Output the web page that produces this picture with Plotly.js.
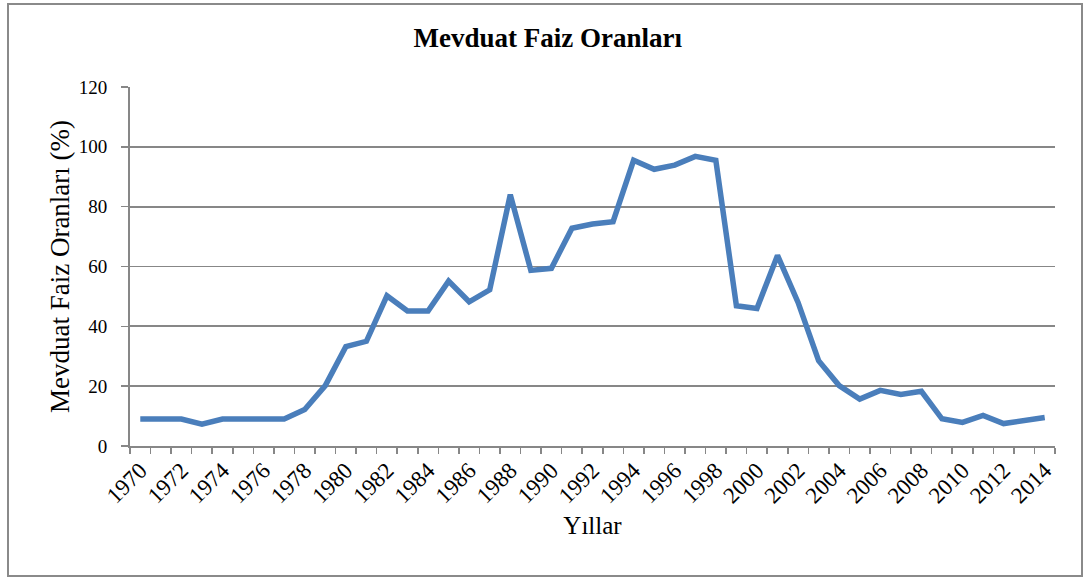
<!DOCTYPE html>
<html>
<head>
<meta charset="utf-8">
<script src="https://cdn.plot.ly/plotly-3.0.1.min.js"></script>
<style>
  html, body { margin: 0; padding: 0; background: #ffffff; }
  #wrap { position: relative; width: 1087px; height: 577px; }
  #chart { position: absolute; left: 0; top: 0; width: 1087px; height: 577px; }
  #frame { position: absolute; left: 7px; top: 3px; width: 1072px; height: 570px;
           border: 2px solid #8a8a8a; pointer-events: none; }
</style>
</head>
<body>
<div id="wrap">
  <div id="chart"></div>
  <div id="frame"></div>
</div>
<script>
// Years (categories)
const years = [1970, 1971, 1972, 1973, 1974, 1975, 1976, 1977, 1978, 1979,
               1980, 1981, 1982, 1983, 1984, 1985, 1986, 1987, 1988, 1989,
               1990, 1991, 1992, 1993, 1994, 1995, 1996, 1997, 1998, 1999,
               2000, 2001, 2002, 2003, 2004, 2005, 2006, 2007, 2008, 2009,
               2010, 2011, 2012, 2013, 2014];
// Deposit interest rates (%)
const rates = [9, 9, 9, 7.3, 9, 9, 9, 9, 12.2, 20.2,
               33.2, 35, 50.2, 45.1, 45.1, 55.1, 48.2, 52.2, 84, 58.7,
               59.4, 72.8, 74.2, 75, 95.5, 92.5, 93.9, 96.8, 95.5, 46.9,
               46, 63.7, 48, 28.5, 20.2, 15.7, 18.6, 17.2, 18.3, 9.1,
               7.9, 10.2, 7.5, 8.3, 9.5];
// Tick labels shown on the x axis
const xTickYears = [1970, 1972, 1974, 1976, 1978, 1980, 1982, 1984, 1986, 1988,
                    1990, 1992, 1994, 1996, 1998, 2000, 2002, 2004, 2006, 2008,
                    2010, 2012, 2014];
const yTicks = [0, 20, 40, 60, 80, 100, 120];

const titleText = 'Mevduat Faiz Oranları';
const xTitle = 'Yıllar';
const yTitle = 'Mevduat Faiz Oranları (%)';

const gridColor = '#878787';
const serif = '"Liberation Serif", "Times New Roman", serif';

const trace = {
  x: years,
  y: rates,
  type: 'scatter',
  mode: 'lines',
  line: { color: '#4a7ebb', width: 5.5 },
  hoverinfo: 'x+y'
};

const layout = {
  width: 1087,
  height: 577,
  paper_bgcolor: '#ffffff',
  plot_bgcolor: '#ffffff',
  showlegend: false,
  margin: { l: 130, r: 32, t: 87, b: 131, pad: 0 },
  font: { family: serif, color: '#000000', size: 19 },
  title: {
    text: '<b>' + titleText + '</b>',
    font: { family: serif, size: 27, color: '#000000' },
    xref: 'container', yref: 'container',
    x: 0.504, y: 1 - 38 / 577,
    xanchor: 'center', yanchor: 'middle'
  },
  xaxis: {
    type: 'linear',
    range: [1969.5, 2014.5],
    tickmode: 'array',
    tickvals: xTickYears,
    ticktext: xTickYears.map(String),
    tickangle: -45,
    ticks: 'outside',
    ticklen: 0,
    tickcolor: gridColor,
    minor: {
      tickmode: 'linear',
      tick0: 1969.5,
      dtick: 1,
      ticks: 'outside',
      ticklen: 6,
      tickwidth: 1.5,
      tickcolor: gridColor,
      showgrid: false
    },
    showgrid: false,
    zeroline: false,
    showline: true,
    linecolor: gridColor,
    linewidth: 2,
    tickfont: { family: serif, size: 23, color: '#000000' },
    title: {
      text: xTitle,
      font: { family: serif, size: 25, color: '#000000' },
      standoff: 9
    },
    fixedrange: true
  },
  yaxis: {
    range: [0, 120],
    tickmode: 'array',
    tickvals: yTicks,
    ticktext: yTicks.map(String),
    ticks: 'outside',
    ticklen: 7,
    tickwidth: 1.5,
    tickcolor: gridColor,
    ticklabelstandoff: 10,
    showgrid: true,
    gridcolor: gridColor,
    gridwidth: 1.8,
    zeroline: false,
    showline: true,
    linecolor: gridColor,
    linewidth: 2,
    tickfont: { family: serif, size: 19, color: '#000000' },
    title: {
      text: yTitle,
      font: { family: serif, size: 27, color: '#000000' },
      standoff: 1
    },
    fixedrange: true
  }
};

Plotly.newPlot('chart', [trace], layout, { displayModeBar: false, staticPlot: true });
</script>
</body>
</html>
